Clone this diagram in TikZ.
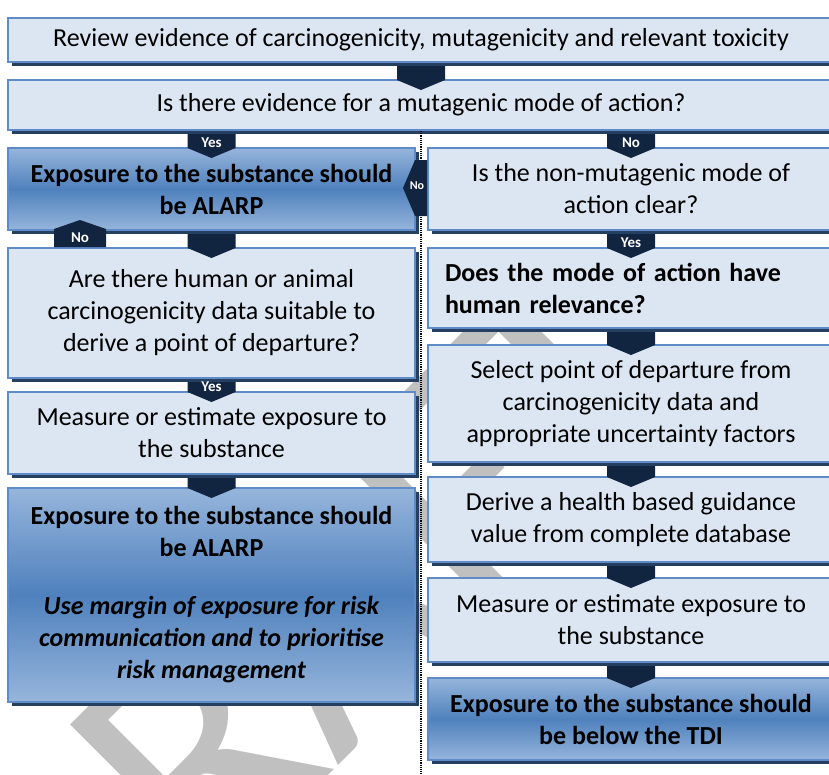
\documentclass[tikz,border=0pt]{standalone}
\usepackage{fontspec}
\setmainfont{Carlito}
\usetikzlibrary{calc,shadows}

\definecolor{boxfill}{RGB}{220,230,242}
\definecolor{boxline}{RGB}{95,140,200}
\definecolor{boxshadow}{RGB}{36,63,96}
\definecolor{gradlight}{RGB}{150,181,219}
\definecolor{graddark}{RGB}{79,129,189}
\definecolor{chevfill}{RGB}{17,36,64}
\definecolor{wmgray}{RGB}{192,192,192}

% down arrow block from one box into the next one
\newcommand\chevdown[3]{%
  \fill[chev] ($(#1.south -| #2.north)+(-24,3)$) -- ++(48,0)
    -- ($(#2.north)+(24,1)$) -- ($(#2.north)+(0,11)$)
    -- ($(#2.north)+(-24,1)$) -- cycle;
  \node[chevtag] (#2-tag) at ($(#2.north)+(0,-4)$) {#3};
}

\begin{document}
\begin{tikzpicture}[x=1pt,y=-1pt,
    lbox/.style={draw=boxline, line width=2pt, fill=boxfill, align=center,
      inner sep=0pt, font=\fontsize{26}{32}\selectfont,
      drop shadow={shadow xshift=4pt, shadow yshift=-4pt, fill=boxshadow, opacity=1}},
    dbox/.style={lbox, top color=gradlight, bottom color=gradlight, middle color=graddark,
      font=\fontsize{26}{32}\selectfont\bfseries},
    lcol/.style={minimum width=407pt},
    rcol/.style={minimum width=406pt},
    chev/.style={fill=chevfill},
    chevtag/.style={text=white, inner sep=0pt, font=\fontsize{15}{15}\selectfont\bfseries},
    divider/.style={densely dotted, line width=1.2pt}]
  \useasboundingbox (0,0) rectangle (829,774);
  \clip (0,0) rectangle (829,774);

  % watermark
  \node[text=wmgray, rotate=45, font=\fontsize{340}{340}\selectfont] (draft) at (305,645) {DRAFT};

  % top row
  \node[lbox, minimum width=826pt, minimum height=44pt] (review) at (421,40)
    {Review evidence of carcinogenicity, mutagenicity and relevant toxicity};
  \node[lbox, minimum width=826pt, minimum height=50pt] (mutagenic) at (421,105)
    {Is there evidence for a mutagenic mode of action?};

  \coordinate (foot) at (421,774);
  \draw[divider] (mutagenic.south) -- (foot);

  % left column
  \node[dbox, lcol, minimum height=82pt] (alarp) at (211.5,189)
    {Exposure to the substance should\\be ALARP};
  \node[lbox, lcol, minimum height=130pt] (podcheck) at (211.5,313)
    {Are there human or animal\\carcinogenicity data suitable to\\derive a point of departure?};
  \node[lbox, lcol, minimum height=82pt] (exposureL) at (211.5,433)
    {Measure or estimate exposure to\\the substance};
  \node[dbox, lcol, minimum height=214pt] (moe) at (211.5,595)
    {Exposure to the substance should\\be ALARP\\[26pt]
     \itshape Use margin of exposure for risk\\\itshape communication and to prioritise\\\itshape risk management};

  % right column
  \node[lbox, rcol, minimum height=82pt] (nonmut) at (631,189)
    {Is the non-mutagenic mode of\\action clear?};
  \node[lbox, rcol, minimum height=80pt, text width=372pt, align=left,
    font=\fontsize{26}{32}\selectfont\bfseries] (relevance) at (631,288)
    {Does the mode of action have\\human relevance?};
  \node[lbox, rcol, minimum height=117pt] (selectpod) at (631,403.5)
    {Select point of departure from\\carcinogenicity data and\\appropriate uncertainty factors};
  \node[lbox, rcol, minimum height=85pt] (hbgv) at (631,519.5)
    {Derive a health based guidance\\value from complete database};
  \node[lbox, rcol, minimum height=84pt] (exposureR) at (631,620)
    {Measure or estimate exposure to\\the substance};
  \node[dbox, rcol, minimum height=82pt] (tdi) at (631,719)
    {Exposure to the substance should\\be below the TDI};

  % arrows
  \chevdown{review}{mutagenic}{}
  \chevdown{mutagenic}{alarp}{Yes}
  \chevdown{mutagenic}{nonmut}{No}
  \chevdown{alarp}{podcheck}{}
  \chevdown{nonmut}{relevance}{Yes}
  \chevdown{relevance}{selectpod}{}
  \chevdown{podcheck}{exposureL}{Yes}
  \chevdown{exposureL}{moe}{}
  \chevdown{selectpod}{hbgv}{}
  \chevdown{hbgv}{exposureR}{}
  \chevdown{exposureR}{tdi}{}

  % no -> back to ALARP
  \coordinate (noleft) at ($(nonmut.west)+(0,-1)$);
  \fill[chev] ($(noleft)+(0,-28)$) -- ++(-12,0) -- ($(noleft)+(-24,0)$)
    -- ($(noleft)+(-12,28)$) -- ($(noleft)+(0,28)$) -- cycle;
  \node[chevtag, font=\fontsize{12}{12}\selectfont\bfseries] (noleft-tag) at ($(noleft)+(-10,-2)$) {No};
  \coordinate (noup) at ($(podcheck.north west)+(73,0)$);
  \fill[chev] ($(noup)+(-26,0)$) -- ++(0,-18) -- ($(noup)+(0,-27)$)
    -- ($(noup)+(26,-18)$) -- ($(noup)+(26,0)$) -- cycle;
  \node[chevtag] (noup-tag) at ($(noup)+(0,-9)$) {No};
\end{tikzpicture}
\end{document}
